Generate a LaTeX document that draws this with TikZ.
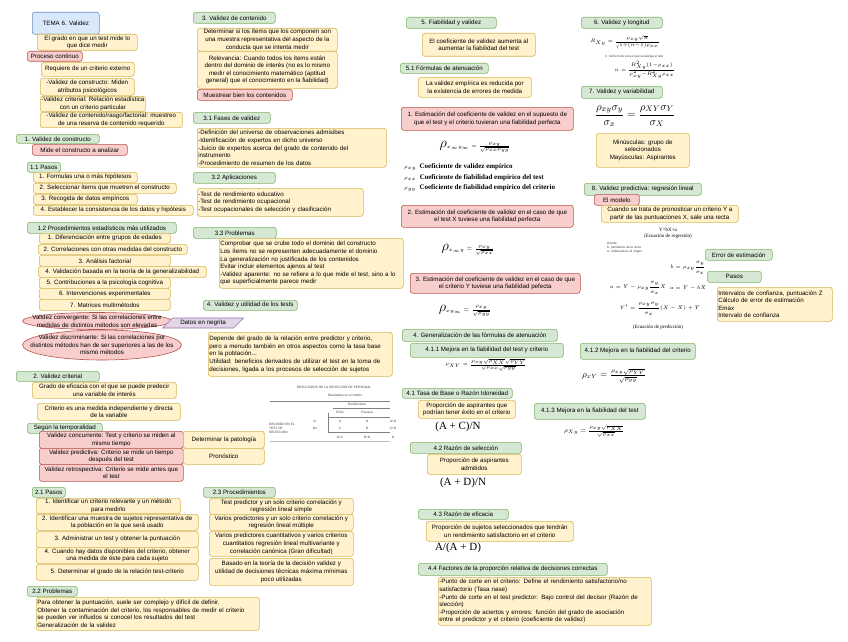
\documentclass[tikz,border=0pt]{standalone}
\usepackage{amsmath}
\usepackage{fontspec}
\setmainfont{Liberation Sans}
\newfontfamily\tnr{Liberation Serif}
\usetikzlibrary{shapes.geometric}
\definecolor{grnfill}{HTML}{D5E8D4}
\definecolor{grnline}{HTML}{82B366}
\definecolor{ylwfill}{HTML}{FFF2CC}
\definecolor{ylwline}{HTML}{D6B656}
\definecolor{redfill}{HTML}{F8CECC}
\definecolor{redline}{HTML}{B85450}
\definecolor{blufill}{HTML}{DAE8FC}
\definecolor{bluline}{HTML}{6C8EBF}
\definecolor{prpfill}{HTML}{E1D5E7}
\definecolor{prpline}{HTML}{9673A6}

\begin{document}
\begin{tikzpicture}[
  x=1pt, y=-1pt,
  font=\fontsize{6.2}{7.6}\selectfont,
  box/.style={draw, rounded corners=2.5pt, line width=0.6pt, inner sep=1pt, anchor=north west, align=center},
  gbox/.style={box, fill=grnfill, draw=grnline},
  ybox/.style={box, fill=ylwfill, draw=ylwline},
  rbox/.style={box, fill=redfill, draw=redline},
  bbox/.style={box, fill=blufill, draw=bluline},
  lft/.style={align=left, text width=#1pt},
  sz/.style 2 args={minimum width=#1pt, minimum height=#2pt},
  rell/.style={ellipse, draw=redline, fill=redfill, line width=0.6pt, inner sep=0pt},
  tag/.style={trapezium, trapezium left angle=45, trapezium right angle=135, draw=prpline, fill=prpfill, line width=0.6pt, inner sep=1pt},
  frm/.style={inner sep=0pt},
  leg/.style={anchor=west, inner sep=0pt, font=\tnr\bfseries\fontsize{7}{8}\selectfont},
  abc/.style={inner sep=0pt, font=\tnr\fontsize{11}{11}\selectfont},
  tiny/.style={inner sep=0pt, font=\fontsize{3.2}{3.8}\selectfont, text=black!75},
  rule/.style={line width=0.4pt, black!50}
]
\useasboundingbox (0,0) rectangle (848,642);

% tema
\node[bbox, sz={67}{22}] (tema) at (32,12) {TEMA 6. Validez};
\node[ybox, sz={100}{16}] (defin) at (37,34) {El grado en que un test mide lo\\que dice medir};
\node[rbox, sz={55}{10}] (proceso) at (27,51) {Proceso continuo};
\node[ybox, sz={93}{14}] (requiere) at (41,62) {Requiere de un criterio externo};
\node[ybox, sz={94}{17}] (vconst) at (40,78) {-Validez de constructo: Miden\\atributos psicológicos};
\node[ybox, sz={104}{15}] (vcrit) at (40,96) {-Validez criterial: Relación estadística\\con un criterio particular};
\node[ybox, sz={142}{15}] (vcont) at (40,112) {-Validez de contenido/rasgo/factorial: muestreo\\de una reserva de contenido requerido};

% 1. validez de constructo
\node[gbox, sz={83}{9}] (s1) at (16,134) {1. Validez de constructo};
\node[rbox, sz={95}{11}] (s1def) at (32,144) {Mide el constructo a analizar};
\node[gbox, sz={33}{10}] (s11) at (27,162) {1.1 Pasos};
\node[ybox, sz={104}{10}] (paso1) at (33,172) {1. Formulas una o más hipótesos};
\node[ybox, sz={143}{10}] (paso2) at (33,183) {2. Seleccionar ítems que muetren el constructo};
\node[ybox, sz={104}{10}] (paso3) at (33,194) {3. Recogida de datos empíricos};
\node[ybox, sz={160}{10}] (paso4) at (33,205) {4. Establecer la consistencia de los datos y hipótesis};
\node[gbox, sz={149}{11}] (s12) at (27,222) {1.2 Procedimientos estadísticos más utilizados};
\node[ybox, sz={131}{10}] (proc1) at (39,233) {1. Diferenciación entre grupos de edades};
\node[ybox, sz={149}{10}] (proc2) at (38,244) {2. Correlaciones con otras medidas del constructo};
\node[ybox, sz={131}{11}] (proc3) at (39,255) {3. Análisis factorial};
\node[ybox, sz={168}{11}] (proc4) at (38,266) {4. Validación basada en la teoría de la generalizabilidad};
\node[ybox, sz={131}{11}] (proc5) at (39,277) {5. Contribuciones a la psicología cognitiva};
\node[ybox, sz={131}{11}] (proc6) at (39,288) {6. Intervenciones experimentales};
\node[ybox, sz={131}{11}] (proc7) at (39,299) {7. Matrices multimétodos};
\node[rell, sz={149}{17}] (conv) at (97,321) {};
\node[align=center, inner sep=0pt] (convtxt) at (conv) {Validez convergente: Si las correlaciones entre\\medidas de distintos métodos son elevadas};
\node[tag, sz={73}{10}] (datos) at (203,323) {Datos en negrita};
\node[rell, sz={159}{30}] (disc) at (102,345) {};
\node[align=center, inner sep=0pt] (disctxt) at (disc) {Validez discriminante: Si las correlaciones por\\distintos métodos han de ser superiores a las de los\\mismo métodos};

% 2. validez criterial
\node[gbox, sz={83}{10}] (s2) at (16,371) {2. Validez criterial};
\node[ybox, sz={144}{16}] (s2def) at (32,382) {Grado de eficacia con el que se puede predecir\\una variable de interés};
\node[ybox, sz={143}{17}] (s2ind) at (37,403) {Criterio es una medida independiente y directa\\de la variable};
\node[gbox, sz={75}{10}] (temporal) at (27,423) {Según la temporalidad};
\node[rbox, sz={144}{17}] (vconc) at (39,431) {Validez concurrente: Test y criterio se miden al\\mismo tiempo};
\node[rbox, sz={144}{16}] (vpred) at (39,448) {Validez predictiva: Criterio se mide un tiempo\\después del test};
\node[rbox, sz={144}{17}] (vretro) at (39,464) {Validez retrospectiva: Criterio se mide antes que\\el test};
\node[ybox, sz={81}{17}] (patol) at (183,431) {Determinar la patología};
\node[ybox, sz={81}{16}] (pronos) at (183,448) {Pronóstico};
\node[gbox, sz={33}{10}] (s21) at (32,487) {2.1 Pasos};
\node[ybox, sz={144}{15}] (cpaso1) at (36,498) {1. Identificar un criterio relevante y un método\\para medirlo};
\node[ybox, sz={162}{16}] (cpaso2) at (36,514) {2. Identificar una muestra de sujetos representativa de\\la población en la que será usado};
\node[ybox, sz={162}{16}] (cpaso3) at (36,531) {3. Administrar un test y obtener la puntuación};
\node[ybox, sz={162}{16}] (cpaso4) at (36,547) {4. Cuando hay datos disponibles del criterio, obtener\\una medida de éste para cada sujeto};
\node[ybox, sz={162}{16}] (cpaso5) at (36,564) {5. Determinar el grado de la relación test-criterio};
\node[gbox, sz={50}{10}] (s22) at (27,586) {2.2 Problemas};
\node[ybox, lft=221, sz={223}{33}] (cprob) at (36,597) {Para obtener la puntuación, suele ser complejo y difícil de definir.\\Obtener la contaminación del criterio, los responsables de medir el criterio\\se pueden ver influidos si conocel los resultados del test\\Generalización de la validez};
\node[gbox, sz={72}{10}] (s23) at (203,487) {2.3 Procedimientos};
\node[ybox, sz={144}{16}] (proced1) at (209,498) {Test predictor y un solo criterio correlación y\\regresión lineal simple};
\node[ybox, sz={144}{16}] (proced2) at (209,514) {Varios predictores y un solo criterio correlación y\\regresión lineal múltiple};
\node[ybox, sz={144}{25}] (proced3) at (209,531) {Varios predictores cuantitativos y varios criterios\\cuantitatios regresión lineal multivariante y\\correlación canónica (Gran dificultad)};
\node[ybox, sz={144}{27}] (proced4) at (209,558) {Basado en la teoría de la decisión validez y\\utilidad de decisiones técnicas máxima mínimas\\poco utilizadas};

% 3. validez de contenido
\node[gbox, sz={82}{11}] (s3) at (193,12) {3. Validez de contenido};
\node[ybox, sz={140}{23}] (s3def) at (197,28) {Determinar si los ítems que los componen son\\una muestra representativa del aspecto de la\\conducta que se intenta medir};
\node[ybox, sz={140}{37}] (relev) at (197,51) {Relevancia: Cuando todos los ítems están\\dentro del dominio de interés (no es lo mismo\\medir el conocimiento matemático (aptitud\\general) que el conocimiento en la fiabilidad)};
\node[rbox, sz={95}{11}] (muestrear) at (197,89) {Muestrear bien los contenidos};
\node[gbox, sz={77}{11}] (s31) at (193,112) {3.1 Fases de validez};
\node[ybox, lft=187, sz={189}{39}] (fases) at (197,128) {-Definición del universo de observaciones admisibes\\-Identificación de expertos en dicho universo\\-Juicio de expertos acerca del grado de contenido del\\instrumento\\-Procedimiento de resumen de los datos};
\node[gbox, sz={82}{11}] (s32) at (193,172) {3.2 Aplicaciones};
\node[ybox, lft=164, sz={166}{28}] (aplic) at (197,188) {-Test de rendimiento educativo\\-Test de rendimiento ocupacional\\-Test ocupacionales de selección y clasificación\\[2pt]};
\node[gbox, sz={83}{11}] (s33) at (193,227) {3.3 Problemas};
\node[ybox, lft=182, sz={184}{50}] (cprob3) at (219,238) {Comprobar que se crube todo el dominio del constructo\\Los ítems no se representen adecuadamente el dominio\\La generalización no justificada de los contenidos\\Evitar incluir elementos ajenos al test\\-Validez aparente: no se refiere a lo que mide el test, sino a lo\\que superficialmente parece medir};

% 4. validez y utilidad
\node[gbox, sz={94}{10}] (s4) at (203,300) {4. Validez y utilidad de los tests};
\node[ybox, lft=182, sz={184}{44}] (util) at (208,332) {Depende del grado de la relación entre predictor y criterio,\\pero a menudo también en otros aspectos como la tasa base\\en la población...\\Utilidad: beneficios derivados de utilizar el test en la toma de\\decisiones, ligada a los procesos de selección de sujetos};
% tabla de decisiones
\node[tiny] (tabtit) at (334,387) {RESULTADOS DE LA SELECCIÓN DE PERSONAL};
\node[tiny] (tabcrit) at (345,395) {Resultados en el criterio};
\draw[rule] (270,401) -- (390,401);
\node[tiny] (tabrend) at (357,404) {Rendimiento};
\draw[rule] (333,408) -- (390,408);
\node[tiny] (tabexi) at (340,412) {Éxito};
\node[tiny] (tabfra) at (367,412) {Fracaso};
\draw[rule] (328,417) -- (390,417);
\draw[rule] (328,413) -- (328,433);
\node[tiny, align=left] (tabdec) at (282,428) {DECISIÓN EN EL\\TEST DE\\SELECCIÓN};
\node[tiny] (tabadm) at (315,421) {Sí};
\node[tiny] (tabrec) at (315,428) {No};
\node[tiny] (tabA) at (340,421) {A};
\node[tiny] (tabD) at (367,421) {D};
\node[tiny] (tabAD) at (393,421) {A+D};
\node[tiny] (tabC) at (340,428) {C};
\node[tiny] (tabB) at (367,428) {B};
\node[tiny] (tabCB) at (393,428) {C+B};
\draw[rule] (328,432) -- (390,432);
\node[tiny] (tabAC) at (340,437) {A+C};
\node[tiny] (tabDB) at (367,437) {D+B};
\node[tiny] (tabN) at (393,437) {N};
\draw[rule, black!25] (270,441) -- (390,441);

% 5. fiabilidad y validez
\node[gbox, sz={90}{11}] (s5) at (406,17) {5. Fiabilidad y validez};
\node[ybox, sz={113}{23}] (s5def) at (422,33) {El coeficiente de validez aumenta al\\aumentar la fiabilidad del test};
\node[gbox, sz={88}{10}] (s51) at (400,63) {5.1 Fórmulas de atenuación};
\node[ybox, sz={113}{20}] (s51def) at (418,77) {La validez empírica es reducida por\\la existencia de errores de medida};
\node[rbox, sz={172}{23}] (estim1) at (401,107) {1. Estimación del coeficiente de validez en el supuesto de\\que el test y el criterio tuvieran una fiabilidad perfecta};
\node[frm] (form1) at (475,147) {{\fontsize{14}{14}\selectfont$\rho$}{\fontsize{5}{5}\selectfont$_{x_\infty y_\infty}=\frac{\rho_{xy}}{\sqrt{\rho_{xx}\rho_{yy}}}$}};
\node[leg] (leg1) at (404,167) {{\fontsize{5}{5}\selectfont$\rho_{xy}$}\enspace Coeficiente de validez empírico};
\node[leg] (leg2) at (404,178) {{\fontsize{5}{5}\selectfont$\rho_{xx}$}\enspace Coeficiente de fiabilidad empírico del test};
\node[leg] (leg3) at (404,188) {{\fontsize{5}{5}\selectfont$\rho_{yy}$}\enspace Coeficiente de fiabilidad empírico del criterio};
\node[rbox, sz={172}{22}] (estim2) at (401,205) {2. Estimación del coeficiente de validez en el caso de que\\el test X tuviese una fiabilidad perfecta};
\node[frm] (form2) at (468,250) {{\fontsize{14}{14}\selectfont$\rho$}{\fontsize{6}{6}\selectfont$_{x_\infty y}=\frac{\rho_{xy}}{\sqrt{\rho_{xx}}}$}};
\node[rbox, sz={170}{20}] (estim3) at (410,273) {3. Estimación del coeficiente de validez en el caso de que\\el criterio Y tuviese una fiabilidad pefecta};
\node[frm] (form3) at (465,311) {{\fontsize{14}{14}\selectfont$\rho$}{\fontsize{6}{6}\selectfont$_{x y_\infty}=\frac{\rho_{xy}}{\sqrt{\rho_{yy}}}$}};
\node[gbox, sz={155}{12}] (s4g) at (402,329) {4. Generalización de las fórmulas de atenuación};
\node[gbox, sz={153}{14}] (s411) at (410,343) {4.1.1 Mejora en la fiabilidad del test y criterio};
\node[frm] (form411) at (486,365) {\fontsize{3.5}{3.5}\selectfont$\rho_{XY}=\frac{\rho_{xy}\sqrt{\rho_{XX}}\sqrt{\rho_{YY}}}{\sqrt{\rho_{xx}}\sqrt{\rho_{yy}}}$};
\node[gbox, sz={110}{10}] (s41) at (402,388) {4.1 Tasa de Base o Razón Idoneidad};
\node[ybox, sz={97}{18}] (s41def) at (418,400) {Proporción de aspirantes que\\podrían tener éxito en el criterio};
\node[abc] (base) at (458,427) {(A + C)/N};
\node[gbox, sz={111}{11}] (s42) at (410,442) {4.2 Razón de selección};
\node[ybox, sz={94}{20}] (s42def) at (427,454) {Proporción de aspirantes\\admitidos};
\node[abc] (selec) at (463,483) {(A + D)/N};
\node[gbox, sz={90}{10}] (s43) at (418,509) {4.3 Razón de eficacia};
\node[ybox, sz={147}{20}] (s43def) at (426,521) {Proporción de sujetos seleccionados que tendrán\\un rendimiento satisfactorio en el criterio};
\node[abc] (efic) at (458,548) {A/(A + D)};
\node[gbox, sz={189}{12}] (s44) at (418,563) {4.4 Factores de la proporción relativa de decisiones correctas};
\node[ybox, lft=211, sz={213}{48}] (factores) at (438,577) {-Punto de corte en el criterio: Define el rendimiento satisfactorio/no\\satisfactorio (Tasa nase)\\-Punto de corte en el test predictor: Bajo control del decisor (Razón de\\slección)\\-Proporción de aciertos y errores: función del grado de asociación\\entre el predictor y el criterio (coeficiente de validez)};
\node[gbox, sz={115}{16}] (s412) at (580,343) {4.1.2 Mejora en la fiabilidad del criterio};
\node[frm] (form412) at (614,376) {\fontsize{9}{9}\selectfont$\rho_{xY}=\frac{\rho_{xy}\sqrt{\rho_{YY}}}{\sqrt{\rho_{yy}}}$};
\node[gbox, sz={111}{16}] (s413) at (534,403) {4.1.3 Mejora en la fiabilidad del test};
\node[frm] (form413) at (594,431) {\fontsize{6}{6}\selectfont$\rho_{Xy}=\frac{\rho_{xy}\sqrt{\rho_{XX}}}{\sqrt{\rho_{xx}}}$};

% 6. validez y longitud
\node[gbox, sz={81}{11}] (s6) at (581,17) {6. Validez y longitud};
\node[frm] (form6a) at (625,42) {\fontsize{4}{4}\selectfont$R_{Xy}=\frac{\rho_{xy}\sqrt{n}}{\sqrt{1+(n-1)\rho_{xx}}}$};
\node[tiny] (form6b) at (634,57) {n: número de veces que se alarga el test};
\node[frm] (form6c) at (645,70) {\fontsize{4}{4}\selectfont$n=\frac{R^2_{Xy}(1-\rho_{xx})}{\rho^2_{xy}-R^2_{Xy}\rho_{xx}}$};

% 7. validez y variabilidad
\node[gbox, sz={81}{12}] (s7) at (581,86) {7. Validez y variabilidad};
\node[frm] (form7) at (635,116) {\fontsize{11}{11}\selectfont$\dfrac{\rho_{xy}\sigma_y}{\sigma_x}=\dfrac{\rho_{XY}\sigma_Y}{\sigma_X}$};
\node[ybox, sz={93}{34}] (s7def) at (596,133) {Minúsculas: grupo de\\selecionados\\Mayúsculas: Aspirantes};

% 8. validez predictiva
\node[gbox, sz={117}{12}] (s8) at (584,183) {8. Validez predictiva: regresión lineal};
\node[rbox, sz={45}{11}] (modelo) at (594,194) {El modelo};
\node[ybox, sz={137}{17}] (s8def) at (601,205) {Cuando se trata de pronosticar un criterio Y a\\partir de las puntuaciones X, sale una recta};
\node[frm, font=\tnr\fontsize{5}{6}\selectfont, align=center] (regr) at (668,233) {Y=bX+a\\(Ecuación de regresión)};
\node[tiny, align=left, anchor=north west] (donde) at (607,242) {Donde:\\b: pendiente de la recta\\a: ordenada en el origen};
\node[frm] (pend) at (688,268) {\fontsize{4.5}{4.5}\selectfont$b=\rho_{xy}\dfrac{\sigma_y}{\sigma_x}$};
\node[frm] (orden) at (638,288) {\fontsize{4.5}{4.5}\selectfont$a=\bar{Y}-\rho_{xy}\dfrac{\sigma_y}{\sigma_x}\bar{X}$};
\node[frm] (orden2) at (688,288) {\fontsize{4.5}{4.5}\selectfont$a=\bar{Y}-b\bar{X}$};
\node[frm] (pred) at (660,309) {\fontsize{4.5}{4.5}\selectfont$Y'=\dfrac{\rho_{xy}\sigma_y}{\sigma_x}(X-\bar{X})+\bar{Y}$};
\node[frm, font=\tnr\fontsize{5}{6}\selectfont] (predlab) at (658,327) {(Ecuación de predicción)};
\node[gbox, sz={67}{11}] (error) at (705,249) {Error de estimación};
\node[gbox, sz={54}{11}] (pasos) at (707,271) {Pasos};
\node[ybox, lft=113, sz={115}{34}] (pasosdef) at (717,287) {Intervalos de confianza, puntuación Z\\Cálculo de error de estimación\\Emax\\Intervalo de confianza};
\end{tikzpicture}
\end{document}
